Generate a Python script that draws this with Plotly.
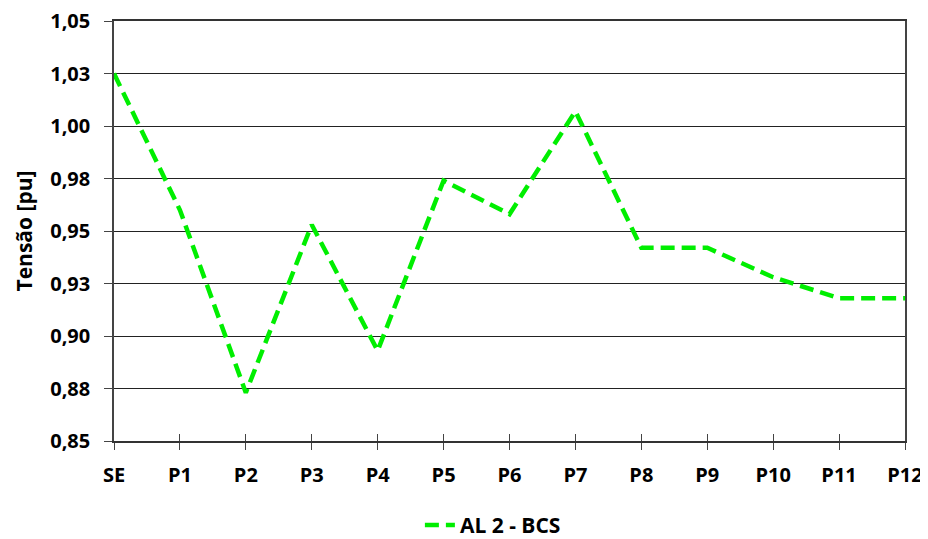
import plotly.graph_objects as go

categories = ["SE", "P1", "P2", "P3", "P4", "P5", "P6", "P7", "P8", "P9", "P10", "P11", "P12"]
tensao = [1.025, 0.960, 0.873, 0.953, 0.893, 0.974, 0.958, 1.007, 0.942, 0.942, 0.928, 0.918, 0.918]
series_name = "AL 2 - BCS"
y_tickvals = [0.85, 0.875, 0.90, 0.925, 0.95, 0.975, 1.00, 1.025, 1.05]
y_ticktext = ["0,85", "0,88", "0,90", "0,93", "0,95", "0,98", "1,00", "1,03", "1,05"]

FONT = "Open Sans"
xs = list(range(len(categories)))

fig = go.Figure()
fig.add_trace(go.Scatter(
    x=xs, y=tensao, mode="lines", name=series_name,
    line=dict(color="#00EE00", width=4.5, dash="14px,7px"),
))
# helper trace on an overlaid axis to draw the inner half of the x ticks
fig.add_trace(go.Scatter(x=xs, y=tensao, xaxis="x2", mode="lines",
                         line=dict(width=0), showlegend=False, hoverinfo="skip"))

fig.update_layout(
    width=928, height=539,
    margin=dict(l=106, r=31, t=13, b=106),
    paper_bgcolor="white", plot_bgcolor="white",
    font=dict(family=FONT, color="black"),
    showlegend=True,
    legend=dict(orientation="h", x=0.479, xanchor="center",
                yref="container", y=0.04, yanchor="middle",
                font=dict(family=FONT, size=21, color="black", weight="bold")),
    xaxis=dict(
        range=[0, 12], tickvals=xs, ticktext=categories,
        showgrid=False, zeroline=False, automargin=False,
        showline=True, linecolor="#333", linewidth=1.5, mirror=True,
        ticks="outside", ticklen=7, tickcolor="#444", tickwidth=1.2,
        ticklabelstandoff=8, ticklabeloverflow="allow",
        tickfont=dict(family=FONT, size=20, weight="bold"),
    ),
    xaxis2=dict(
        range=[0, 12], overlaying="x", side="bottom", anchor="y",
        tickvals=xs, showticklabels=False, showgrid=False, zeroline=False,
        ticks="inside", ticklen=7, tickcolor="#444", tickwidth=1.2,
    ),
    yaxis=dict(
        range=[0.85, 1.05], tickvals=y_tickvals, ticktext=y_ticktext,
        showgrid=True, gridcolor="#222", gridwidth=1.2, zeroline=False, automargin=False,
        showline=True, linecolor="#444", linewidth=1.5, mirror=True,
        ticks="outside", ticklen=8, tickcolor="#444", tickwidth=1.2,
        ticklabelstandoff=10, ticklabeloverflow="allow",
        tickfont=dict(family=FONT, size=20, weight="bold"),
        title=dict(text="Tensão [pu]", font=dict(family=FONT, size=21, weight="bold"), standoff=12),
    ),
)

fig.write_html("out.html")
